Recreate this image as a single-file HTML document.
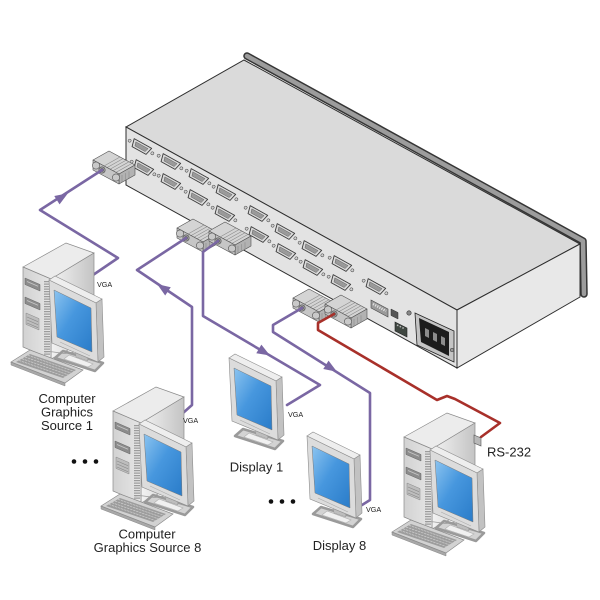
<!DOCTYPE html>
<html><head><meta charset="utf-8">
<style>html,body{margin:0;padding:0;background:#fff}svg{display:block}</style>
</head>
<body>
<svg width="600" height="600" viewBox="0 0 600 600" xmlns="http://www.w3.org/2000/svg">
<defs>
  <linearGradient id="gScreen" x1="0" y1="0" x2="1" y2="1">
    <stop offset="0" stop-color="#8cc4f0"/>
    <stop offset="0.45" stop-color="#4797de"/>
    <stop offset="1" stop-color="#2a7cc9"/>
  </linearGradient>
  <linearGradient id="gSide" x1="0" y1="0" x2="1" y2="0">
    <stop offset="0" stop-color="#f3f3f3"/>
    <stop offset="1" stop-color="#c4c4c4"/>
  </linearGradient>
  <linearGradient id="gFront" x1="0" y1="0" x2="1" y2="0">
    <stop offset="0" stop-color="#d2d2d2"/>
    <stop offset="1" stop-color="#e6e6e6"/>
  </linearGradient>

  <g id="db">
    <path d="M-10,-4 L10,-4 L8,4 L-8,4 Z" fill="#d9d9d9" stroke="#3a3a3a" stroke-width="0.9" stroke-linejoin="round"/>
    <path d="M-7,-2 L7,-2 L5.8,2 L-5.8,2 Z" fill="#9a9a9a" stroke="#555" stroke-width="0.4"/>
    <circle cx="-13" cy="0" r="1.5" fill="#cfcfcf" stroke="#444" stroke-width="0.5"/>
    <circle cx="13" cy="0" r="1.5" fill="#cfcfcf" stroke="#444" stroke-width="0.5"/>
  </g>

  <g id="plug" stroke="#505050" stroke-width="0.6" stroke-linejoin="round">
    <polygon points="-13,-12 13,2 29,-7 3,-21" fill="#d4d4d4"/>
    <polygon points="13,2 13,12 29,3 29,-7" fill="#b2b2b2"/>
    <g stroke="#8a8a8a" stroke-width="0.6">
      <line x1="-2" y1="-6" x2="14" y2="-15"/>
      <line x1="1" y1="-4.4" x2="17" y2="-13.4"/>
      <line x1="4" y1="-2.8" x2="20" y2="-11.8"/>
      <line x1="7" y1="-1.2" x2="23" y2="-10.2"/>
      <line x1="10" y1="0.4" x2="26" y2="-8.6"/>
      <line x1="16" y1="3" x2="16" y2="10"/>
      <line x1="19.5" y1="1.1" x2="19.5" y2="8.1"/>
      <line x1="23" y1="-0.8" x2="23" y2="6.2"/>
    </g>
    <polygon points="-13,-12 13,2 13,12 -13,-2" fill="#c6c6c6"/>
    <circle cx="-10" cy="-6.5" r="3.6" fill="#c9c9c9"/>
    <circle cx="10" cy="5.5" r="3.6" fill="#c9c9c9"/>
    <circle cx="-4" cy="-2" r="3.2" fill="#a0a0a0"/>
    <circle cx="-4" cy="-2" r="1.5" fill="#666"/>
  </g>

  <g id="mon">
    <polygon points="55,358 63,351 103,363 95,371" fill="#d3d3d3" stroke="#9a9a9a" stroke-width="2.5" stroke-linejoin="round"/>
    <polygon points="64,359 69,355 93,364 88,367" fill="#f0f0f0" stroke="#b0b0b0" stroke-width="0.6"/>
    <polygon points="74,343 86,348 88,361 76,357" fill="#bdbdbd" stroke="#999" stroke-width="0.5"/>
    <polygon points="49,280 55,276 102,299 96,303" fill="#eeeeee" stroke="#8c8c8c" stroke-width="0.6"/>
    <polygon points="96,303 102,299 104,357 98,362" fill="#c2c2c2" stroke="#8c8c8c" stroke-width="0.6"/>
    <polygon points="49,280 96,303 98,362 52,343" fill="#dcdcdc" stroke="#8c8c8c" stroke-width="0.6"/>
    <polygon points="54,290 91,308 92,352 57,337" fill="url(#gScreen)" stroke="#7a7a7a" stroke-width="0.5"/>
    <line x1="60" y1="342" x2="90" y2="356" stroke="#aaa" stroke-width="0.6"/>
  </g>

  <g id="pc">
    <polygon points="23,267 66,243 94,253 51,279" fill="#ececec" stroke="#8a8a8a" stroke-width="0.7"/>
    <polygon points="51,279 94,253 94,336 51,359" fill="url(#gSide)" stroke="#8a8a8a" stroke-width="0.7"/>
    <polygon points="23,267 51,279 51,359 23,347" fill="url(#gFront)" stroke="#8a8a8a" stroke-width="0.7"/>
    <line x1="47" y1="281" x2="47" y2="356" stroke="#9c9c9c" stroke-width="6" stroke-dasharray="1.2 1.3"/>
    <polygon points="25,278 40,284.5 40,291 25,284.5" fill="#8c8c8c" stroke="#666" stroke-width="0.5"/>
    <line x1="27" y1="281.5" x2="38" y2="286.2" stroke="#c8c8c8" stroke-width="0.8"/>
    <polygon points="25,297 40,303.5 40,310 25,303.5" fill="#8c8c8c" stroke="#666" stroke-width="0.5"/>
    <line x1="27" y1="300.5" x2="38" y2="305.2" stroke="#c8c8c8" stroke-width="0.8"/>
    <polygon points="26,313 39,318.6 39,330 26,324.4" fill="#bdbdbd" stroke="#888" stroke-width="0.5"/>
    <line x1="27" y1="317" x2="38" y2="321.7" stroke="#888" stroke-width="0.6"/>
    <line x1="27" y1="320" x2="38" y2="324.7" stroke="#888" stroke-width="0.6"/>
    <line x1="27" y1="323" x2="38" y2="327.7" stroke="#888" stroke-width="0.6"/>
    <use href="#mon"/>
    <polygon points="11,362 65,383 65,386 11,365" fill="#a8a8a8" stroke="#8a8a8a" stroke-width="0.5"/>
    <polygon points="11,362 30,350 83,370 65,383" fill="#d2d2d2" stroke="#8a8a8a" stroke-width="0.7"/>
    <polygon points="16,362 30,354 76,370 63,378" fill="#9d9d9d"/>
    <g stroke="#cfcfcf" stroke-width="0.7" stroke-dasharray="2.4 0.8">
      <line x1="19" y1="360.4" x2="66" y2="376.8"/>
      <line x1="22" y1="358.7" x2="69" y2="375.1"/>
      <line x1="25" y1="357" x2="72" y2="373.4"/>
      <line x1="28" y1="355.3" x2="75" y2="371.7"/>
    </g>
    <path d="M45,352 C55,350 62,356 74,352" fill="none" stroke="#999" stroke-width="0.7"/>
  </g>

  <polygon id="arr" points="7,0 -6,-5 -6,5"/>
</defs>

<rect width="600" height="600" fill="#fff"/>

<path d="M247,56 L583,241 L584,294" fill="none" stroke="#353535" stroke-width="7.5" stroke-linejoin="round" stroke-linecap="round"/>
<path d="M247,56 L583,241 L584,294" fill="none" stroke="#9c9c9c" stroke-width="4.5" stroke-linejoin="round" stroke-linecap="round"/>
<polygon points="126,127 244,60 580,244 457,310" fill="#dadada" stroke="#2e2e2e" stroke-width="1"/>
<polygon points="457,310 580,244 580,297 457,368" fill="#e8e8e8" stroke="#2e2e2e" stroke-width="1"/>
<polygon points="126,127 457,310 457,368 126,185" fill="#e3e3e3" stroke="#2e2e2e" stroke-width="1"/>

<use href="#db" transform="translate(141,147) rotate(29)"/>
<use href="#db" transform="translate(170,162) rotate(29)"/>
<use href="#db" transform="translate(198,177) rotate(29)"/>
<use href="#db" transform="translate(225,193) rotate(29)"/>
<use href="#db" transform="translate(257,214) rotate(29)"/>
<use href="#db" transform="translate(284,232) rotate(29)"/>
<use href="#db" transform="translate(311,249) rotate(29)"/>
<use href="#db" transform="translate(341,264) rotate(29)"/>
<use href="#db" transform="translate(375,287) rotate(29)"/>
<use href="#db" transform="translate(143,168) rotate(29)"/>
<use href="#db" transform="translate(170,182) rotate(29)"/>
<use href="#db" transform="translate(197,198) rotate(29)"/>
<use href="#db" transform="translate(224,214) rotate(29)"/>
<use href="#db" transform="translate(258,235) rotate(29)"/>
<use href="#db" transform="translate(285,252) rotate(29)"/>
<use href="#db" transform="translate(312,268) rotate(29)"/>
<use href="#db" transform="translate(340,283) rotate(29)"/>

<polygon points="371,300 388,309 388,317 371,308" fill="#9a9a9a" stroke="#444" stroke-width="0.6"/>
<line x1="373" y1="304" x2="386" y2="311" stroke="#e0e0e0" stroke-width="2.5" stroke-dasharray="1.2 1.2"/>
<polygon points="391,309 398,312.5 398,319 391,315.5" fill="#555" stroke="#333" stroke-width="0.5"/>
<circle cx="409" cy="313" r="2.2" fill="#888" stroke="#333" stroke-width="0.6"/>
<polygon points="395,322 407,328 407,337 395,331" fill="#3f4741" stroke="#222" stroke-width="0.6"/>
<line x1="397" y1="325" x2="405" y2="329" stroke="#bbb" stroke-width="1.5" stroke-dasharray="1.5 1.5"/>
<polygon points="415,313 454,331 454,362 417,345" fill="#c4c4c4" stroke="#222" stroke-width="0.8"/>
<polygon points="419,318 449,332 449,356 421,342" fill="#1c1c1c"/>
<polygon points="425,328 429,330 429,338 425,336" fill="#8c8c8c"/>
<polygon points="433,332 437,334 437,342 433,340" fill="#8c8c8c"/>
<polygon points="441,336 445,338 445,346 441,344" fill="#8c8c8c"/>
<circle cx="452" cy="350" r="1.8" fill="#999" stroke="#333" stroke-width="0.5"/>

<use href="#plug" transform="translate(106,172)"/>
<use href="#plug" transform="translate(190,240)"/>
<use href="#plug" transform="translate(222,243)"/>
<use href="#plug" transform="translate(306,310)"/>
<use href="#plug" transform="translate(338,316)"/>

<g fill="none" stroke="#7a67a3" stroke-width="2.6" stroke-linejoin="round" stroke-linecap="round">
  <path d="M102,170 L40,210 L118,258 L93,275"/>
  <path d="M186,238 L137,270 L192,307 L192,405 L183,413"/>
  <path d="M218,241 L203,252 L203,316 L320,385 L287,405"/>
  <path d="M302,308 L273,325 L273,332 L370,393 L370,500 L362,505"/>
</g>
<path d="M334,314 L318,323 L318,330 L437,400 L447,396 L455,399 L500,423 L481,437" fill="none" stroke="#a8302a" stroke-width="2.6" stroke-linejoin="round" stroke-linecap="round"/>

<g fill="#7a67a3">
  <use href="#arr" transform="translate(62,197) rotate(-32)"/>
  <use href="#arr" transform="translate(163,288) rotate(-146)"/>
  <use href="#arr" transform="translate(264,352) rotate(30.5)"/>
  <use href="#arr" transform="translate(331,368) rotate(32)"/>
</g>

<use href="#pc"/>
<use href="#pc" transform="translate(90,144)"/>
<use href="#pc" transform="translate(381,170)"/>
<use href="#mon" transform="translate(180,78)"/>
<use href="#mon" transform="translate(258,156)"/>

<polygon points="474,435 481,438 481,446 474,443" fill="#b8b8b8" stroke="#555" stroke-width="0.6"/>

<g font-family="'Liberation Sans', Arial, sans-serif" fill="#222">
  <g font-size="7.2">
    <text x="97" y="287">VGA</text>
    <text x="183" y="423">VGA</text>
    <text x="288" y="417">VGA</text>
    <text x="366" y="512">VGA</text>
  </g>
  <g font-size="13" text-anchor="middle">
    <text x="67" y="403">Computer</text>
    <text x="67" y="416.5">Graphics</text>
    <text x="67" y="430">Source 1</text>
    <text x="147" y="538.5">Computer</text>
    <text x="147.5" y="552">Graphics Source 8</text>
    <text x="256.5" y="471.5">Display 1</text>
    <text x="339.5" y="550">Display 8</text>
  </g>
  <text x="487" y="456.5" font-size="13">RS-232</text>
</g>

<g fill="#111">
  <circle cx="74" cy="461.5" r="2.3"/>
  <circle cx="85" cy="461.5" r="2.3"/>
  <circle cx="96" cy="461.5" r="2.3"/>
  <circle cx="271" cy="501.5" r="2.3"/>
  <circle cx="282" cy="501.5" r="2.3"/>
  <circle cx="293" cy="501.5" r="2.3"/>
</g>
</svg>
</body>
</html>
